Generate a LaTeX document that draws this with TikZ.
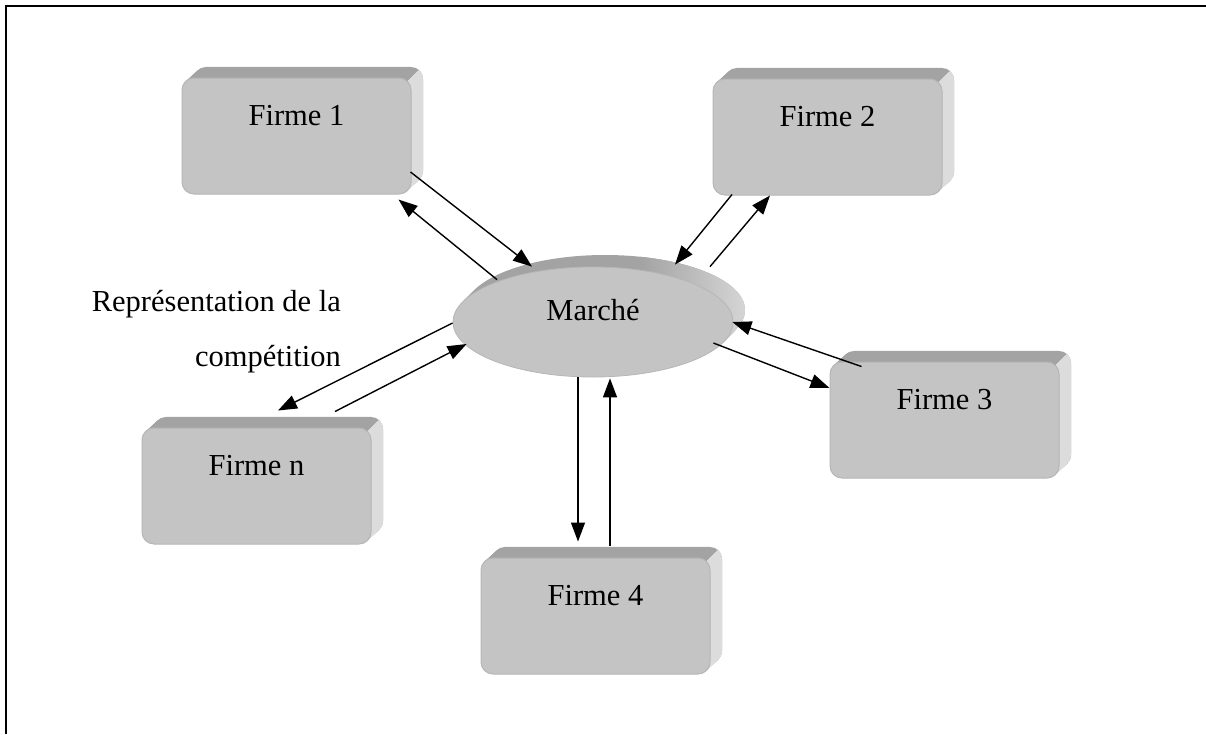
\documentclass[tikz,border=0pt]{standalone}
\usepackage{fontspec}
\setmainfont{Liberation Serif}
\usetikzlibrary{arrows.meta,calc,shapes.geometric}

\definecolor{frontgray}{HTML}{C4C4C4}
\definecolor{topgray}{HTML}{A3A3A3}
\definecolor{sidegray}{HTML}{DCDCDC}
\definecolor{edgegray}{HTML}{B6B6B6}

\newcommand\bigfont{\fontsize{30.5}{36}\selectfont}

% extruded back part of a firm slab; #1,#2 = centre of its front face
\newcommand\slabbody[2]{%
  \foreach \k in {12,...,1}{
    \fill[topgray, rounded corners=12pt] ({#1-114.5+\k},{#2-58-0.92*\k}) rectangle ++(229,116);
  }
  \begin{scope}
    \clip ({#1+108.5},{#2-52}) -- ({#1+142},{#2-86}) -- ({#1+142},{#2+80}) -- ({#1+108.5},{#2+80}) -- cycle;
    \foreach \k in {12,...,1}{
      \fill[sidegray, rounded corners=12pt] ({#1-114.5+\k},{#2-58-0.92*\k}) rectangle ++(229,116);
    }
  \end{scope}
}

\tikzset{
  firm/.style={rectangle, rounded corners=12pt, minimum width=229pt, minimum height=116pt,
    inner sep=4pt, text height=43pt, text depth=65pt, fill=frontgray, draw=edgegray,
    line width=1pt, font=\bigfont},
  market/.style={ellipse, minimum width=280pt, minimum height=110pt, inner sep=0pt,
    text height=10pt, text depth=14pt, fill=frontgray, draw=edgegray, line width=0.8pt,
    font=\bigfont},
  arr/.style={-{Triangle[length=19pt,width=14pt]}, line width=1.4pt},
}

\begin{document}
\begin{tikzpicture}[x=1pt, y=-1pt]
\useasboundingbox (0,0) rectangle (1206,734);

% page frame
\draw[line width=2pt] (6,734) -- (6,6) -- (1206,6);

% market disc, extruded
\foreach \k in {12,...,1}{
  \fill[topgray] ({593+\k},{322-\k}) ellipse [x radius=140, y radius=55];
}
\foreach \k in {12,...,1}{
  \begin{scope}
    \clip ({593+\k},{322-\k}) ellipse [x radius=140, y radius=55];
    \shade[left color=topgray, right color=sidegray] (640,240) rectangle (760,400);
  \end{scope}
}
\node[market] (m) at (593,322) {Marché};

% firm slabs
\slabbody{296.5}{136}
\node[firm] (f1) at (296.5,136) {Firme 1};
\slabbody{827.5}{137}
\node[firm] (f2) at (827.5,137) {Firme 2};
\slabbody{944.5}{420}
\node[firm] (f3) at (944.5,420) {Firme 3};
\slabbody{256.5}{486}
\node[firm] (fn) at (256.5,486) {Firme n};
\slabbody{595.5}{616}
\node[firm] (f4) at (595.5,616) {Firme 4};

% caption on the left
\node[font=\fontsize{30.5}{55}\selectfont, align=right, anchor=north east, inner sep=0pt]
  (lbl) at (341,290) {Représentation de la\\compétition};

% exchanges between the firms and the market
\draw[arr] ($(f1.east)+(-1,36)$) -- ($(m.north)+(-61,0)$);
\draw[arr] ($(m.north)+(-96,13)$) -- ($(f1.south east)+(-13,5)$);

\draw[arr] ($(m.north)+(117,0)$) -- ($(f2.south)+(-57.5,0)$);
\draw[arr] ($(f2.south)+(-95.5,-1)$) -- ($(m.north)+(82,-2)$);

\draw[arr] ($(f3.north west)+(32,5)$) -- ($(m.east)+(-1,0)$);
\draw[arr] ($(m.east)+(-20,21)$) -- ($(f3.west)+(0,-32)$);

\draw[arr] ($(m.south)+(-15,0)$) -- ($(f4.north)+(-17.5,-16)$);
\draw[arr] ($(f4.north)+(14.5,-12)$) -- ($(m.south)+(17,1)$);

\draw[arr] ($(m.west)+(0,1)$) -- ($(fn.north)+(21.5,-17)$);
\draw[arr] ($(fn.north)+(78.5,-16)$) -- ($(m.west)+(14,22)$);
\end{tikzpicture}
\end{document}
